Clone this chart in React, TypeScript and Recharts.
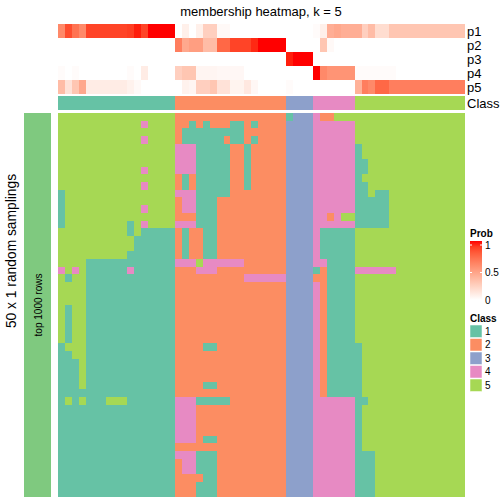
import React from 'react';
import { ScatterChart, Scatter, XAxis, YAxis } from 'recharts';

// Set2 colours for the 5 classes
const classColors = ['#66C2A5', '#FC8D62', '#8DA0CB', '#E78AC3', '#A6D854'];
const classNames = ['1', '2', '3', '4', '5'];
const probNames = ['p1', 'p2', 'p3', 'p4', 'p5'];

// class of every sample (column)
const columnClass = '11111111111111111 2222222222222222 3333 444444 5555555555555555';

// membership probabilities per column
const p1 = [0.6, 0.85, 0.7, 0.6, 0.88, 0.88, 0.88, 0.88, 0.88, 0.88, 0.9, 0.97, 0.88, 1, 1, 1, 1,
  0, 0.08, 0, 0.08, 0.25, 0.25, 0.03, 0.03, 0, 0, 0, 0, 0, 0, 0, 0,
  0, 0, 0, 0,
  0.02, 0.08, 0.42, 0.45, 0.42, 0.42,
  0.42, 0.25, 0.35, 0.18, 0.18, 0.3, 0.3, 0.3, 0.3, 0.3, 0.3, 0.3, 0.3, 0.3, 0.3, 0.3];
const p2 = [0, 0, 0, 0, 0, 0, 0, 0, 0, 0, 0, 0, 0, 0, 0, 0, 0,
  0.65, 0.45, 0.5, 0.5, 0.35, 0.35, 0.75, 0.75, 0.88, 0.88, 0.88, 0.95, 1, 1, 1, 1,
  0, 0, 0, 0,
  0, 0.3, 0.03, 0, 0, 0,
  0, 0, 0, 0, 0, 0, 0, 0, 0, 0, 0, 0, 0, 0, 0, 0];
const p3 = [0, 0, 0, 0, 0, 0, 0, 0, 0, 0, 0, 0, 0, 0, 0, 0, 0,
  0, 0, 0, 0, 0, 0, 0, 0, 0, 0, 0, 0, 0, 0, 0, 0,
  0.97, 1, 1, 1,
  0, 0, 0, 0, 0, 0,
  0, 0, 0, 0, 0, 0, 0, 0, 0, 0, 0, 0, 0, 0, 0, 0];
const p4 = [0.02, 0, 0.02, 0, 0, 0, 0, 0, 0, 0, 0.02, 0, 0.1, 0, 0, 0, 0,
  0.25, 0.3, 0.3, 0.05, 0.05, 0.05, 0.04, 0.04, 0.04, 0.04, 0, 0, 0, 0, 0, 0,
  0, 0, 0, 0,
  1, 0.6, 0.55, 0.55, 0.55, 0.55,
  0.02, 0.02, 0.02, 0.02, 0.02, 0.02, 0, 0, 0, 0, 0, 0, 0, 0, 0, 0];
const p5 = [0.35, 0.15, 0.3, 0.45, 0.1, 0.1, 0.1, 0.1, 0.1, 0.1, 0.07, 0.03, 0, 0, 0, 0, 0,
  0, 0.07, 0.05, 0.25, 0.25, 0.3, 0.15, 0.15, 0.06, 0.06, 0.12, 0.04, 0, 0, 0, 0,
  0.02, 0, 0, 0,
  0, 0, 0, 0, 0, 0,
  0.4, 0.65, 0.6, 0.75, 0.75, 0.65, 0.65, 0.65, 0.65, 0.65, 0.65, 0.65, 0.65, 0.65, 0.65, 0.65];

// class assigned in each of the 50 random samplings (rows), one digit per column
const samplings = [
  '55555555555555555 2222222222222222 1333 422555 5555555555555555',
  '55555555555545555 2212122211212222 3333 444444 5555555555555555',
  '55555555555555555 2111111111222222 3333 444444 5555555555555555',
  '55555555555545555 2111111211212222 3333 444444 5555555555555555',
  '55555555555555555 4441111122122222 3333 444444 1555555555555555',
  '55555555555555555 4441111122122222 3333 444444 1555555555555555',
  '55555555555555555 4441111122122222 3333 444444 1155555555555555',
  '55555555555545555 4441111122122222 3333 444444 1155555555555555',
  '55555555555555555 2121111122122222 3333 444444 1555555555555555',
  '55555555555545555 2121111122122222 3333 444444 1155555555555555',
  '15555555555555555 4441111122222222 3333 444444 1151155555555555',
  '15555555555555555 2441112222222222 3333 444444 1111155555555555',
  '15555555555545555 2441112222222222 3333 444444 1111155555555555',
  '15555555555555555 2221112222222222 3333 442455 1111155555555555',
  '15555555551545555 4441112222222222 3333 444444 1111155555555555',
  '55555555551511111 2122112222222222 3333 411111 5555555555555555',
  '55555555555111111 2122112222222222 3333 411111 5555555555555555',
  '55555555555111111 2122112222222222 3333 411111 5555555555555555',
  '55555555551111111 2122112222222222 3333 411111 5555555555555555',
  '55551111111111111 4445444444222222 3333 441111 5555555555555555',
  '45451111114111111 2224442222222222 3333 121111 4444445555555555',
  '51551111111111111 2222222222444444 3333 221111 5555555555555555',
  '55551111111111111 2222222222222222 3333 421111 5555555555555555',
  '55551111111111111 2222222222222222 3333 421111 5555555555555555',
  '55551111111111111 2222222222222222 3333 421111 5555555555555555',
  '51551111111111111 2222222222222222 3333 421111 5555555555555555',
  '51551111111111111 2222222222222222 3333 421111 5555555555555555',
  '51551111111111111 2222222222222222 3333 421111 5555555555555555',
  '51551111111111111 2222222222222222 3333 421111 5555555555555555',
  '51551111111111111 2222222222222222 3333 421111 5555555555555555',
  '15551111111111111 2222112222222222 3333 421111 1555555555555555',
  '11551111111111111 2222222222222222 3333 421111 1555555555555555',
  '11151111111111111 2222222222222222 3333 421111 1555555555555555',
  '11151111111111111 2222222222222222 3333 421111 1555555555555555',
  '11151111111111111 2222222222222222 3333 421111 1555555555555555',
  '11151111111111111 2222112222222222 3333 421111 1555555555555555',
  '11111111111111111 2222222222222222 3333 421111 1555555555555555',
  '15151115551111111 4441111122222222 3333 444444 1155555555555555',
  '11111111111111111 4442222222222222 3333 444444 1555555555555555',
  '11111111111111111 4442222222222222 3333 444444 1555555555555555',
  '11111111111111111 4442222222222222 3333 444444 1555555555555555',
  '11111111111111111 4442222222222222 3333 444444 1555555555555555',
  '11111111111111111 4442112222222222 3333 444444 1555555555555555',
  '11111111111111111 2222222222222222 3333 444444 1555555555555555',
  '11111111111111111 4441112222222222 3333 444444 1115555555555555',
  '11111111111111111 2441112222222222 3333 444444 1115555555555555',
  '11111111111111111 2441112222222222 3333 444444 1115555555555555',
  '11111111111111111 2222112222222222 3333 444444 1115555555555555',
  '11111111111111111 2221112222222222 3333 444444 1115555555555555',
  '11111111111111111 2221112222222222 3333 444444 1115555555555555',
];

// white -> red ramp interpolated in Lab, like colorRamp2
const toLin = (v: number) => { v /= 255; return v <= 0.04045 ? v / 12.92 : Math.pow((v + 0.055) / 1.055, 2.4); };
const fromLin = (v: number) => {
  const s = v <= 0.0031308 ? 12.92 * v : 1.055 * Math.pow(v, 1 / 2.4) - 0.055;
  return Math.round(Math.max(0, Math.min(1, s)) * 255);
};
const labF = (t: number) => (t > 0.008856 ? Math.cbrt(t) : 7.787 * t + 16 / 116);
const labInv = (t: number) => (t * t * t > 0.008856 ? t * t * t : (t - 16 / 116) / 7.787);
function toLab(r: number, g: number, b: number) {
  const R = toLin(r), G = toLin(g), B = toLin(b);
  const X = (0.4124 * R + 0.3576 * G + 0.1805 * B) / 0.95047;
  const Y = 0.2126 * R + 0.7152 * G + 0.0722 * B;
  const Z = (0.0193 * R + 0.1192 * G + 0.9505 * B) / 1.08883;
  return [116 * labF(Y) - 16, 500 * (labF(X) - labF(Y)), 200 * (labF(Y) - labF(Z))];
}
function fromLab(L: number, a: number, b: number) {
  const fy = (L + 16) / 116;
  const X = labInv(fy + a / 500) * 0.95047;
  const Y = labInv(fy);
  const Z = labInv(fy - b / 200) * 1.08883;
  const r = 3.2406 * X - 1.5372 * Y - 0.4986 * Z;
  const g = -0.9689 * X + 1.8758 * Y + 0.0415 * Z;
  const bb = 0.0557 * X - 0.204 * Y + 1.057 * Z;
  return `rgb(${fromLin(r)},${fromLin(g)},${fromLin(bb)})`;
}
const labWhite = toLab(255, 255, 255);
const labRed = toLab(255, 0, 0);
const probColor = (t: number) =>
  fromLab(
    labWhite[0] + (labRed[0] - labWhite[0]) * t,
    labWhite[1] + (labRed[1] - labWhite[1]) * t,
    labWhite[2] + (labRed[2] - labWhite[2]) * t,
  );

const classOfCol = columnClass.replace(/ /g, '').split('').map(Number);
const gridRows = samplings.map((s) => s.replace(/ /g, '').split('').map(Number));
const probs = [p1, p2, p3, p4, p5];
const nCol = classOfCol.length;

const mainData = gridRows.flatMap((row, r) => row.map((cls, c) => ({ x: c + 0.5, y: r + 0.5, fill: classColors[cls - 1] })));
const probData = probs.flatMap((row, k) => row.map((v, c) => ({ x: c + 0.5, y: k + 0.5, fill: probColor(v) })));
const classData = classOfCol.map((cls, c) => ({ x: c + 0.5, y: 0.5, fill: classColors[cls - 1] }));

const PLOT_LEFT = 58;
const PLOT_W = 407;

function Tiles({ data, rows, top, height }: { data: any[]; rows: number; top: number; height: number }) {
  const w = PLOT_W / nCol;
  const h = height / rows;
  const shape = (props: any) => {
    const { cx, cy, payload } = props;
    if (cx == null || cy == null) return null;
    return (
      <rect x={cx - w / 2} y={cy - h / 2} width={w + 0.6} height={h + 0.6}
        fill={payload.fill} shapeRendering="crispEdges" />
    );
  };
  return (
    <div style={{ position: 'absolute', left: PLOT_LEFT, top }}>
      <ScatterChart width={PLOT_W} height={height} margin={{ top: 0, right: 0, bottom: 0, left: 0 }}>
        <XAxis type="number" dataKey="x" domain={[0, nCol]} allowDataOverflow hide />
        <YAxis type="number" dataKey="y" domain={[0, rows]} allowDataOverflow reversed hide />
        <Scatter data={data} shape={shape} isAnimationActive={false} />
      </ScatterChart>
    </div>
  );
}

const gradStops = [0, 0.1, 0.2, 0.3, 0.4, 0.5, 0.6, 0.7, 0.8, 0.9, 1];

export default function App() {
  const font = '"Liberation Sans", Arial, Helvetica, sans-serif';
  return (
    <div style={{ position: 'absolute', left: 0, top: 0, width: 504, height: 504, background: '#fff', fontFamily: font }}>
      <Tiles data={probData} rows={5} top={24} height={70} />
      <Tiles data={classData} rows={1} top={96} height={14} />
      <Tiles data={mainData} rows={gridRows.length} top={113} height={384} />
      <svg width={504} height={504} style={{ position: 'absolute', left: 0, top: 0, pointerEvents: 'none' }} fontFamily={font}>
        <defs>
          <linearGradient id="probGrad" x1="0" y1="1" x2="0" y2="0">
            {gradStops.map((t) => (
              <stop key={t} offset={t} stopColor={probColor(t)} />
            ))}
          </linearGradient>
        </defs>
        <text x={261} y={16} textAnchor="middle" fontSize={13}>membership heatmap, k = 5</text>
        {probNames.map((n, i) => (
          <text key={n} x={467} y={31 + i * 14} dominantBaseline="central" fontSize={13}>{n}</text>
        ))}
        <text x={467} y={103} dominantBaseline="central" fontSize={13}>Class</text>

        <rect x={24} y={113} width={27} height={384} fill="#7FC97F" />
        <text transform="translate(41.5,305) rotate(-90)" textAnchor="middle" fontSize={10}>top 1000 rows</text>
        <text transform="translate(16,251) rotate(-90)" textAnchor="middle" fontSize={13.8}>50 x 1 random samplings</text>

        <text x={470} y={237} fontSize={10} fontWeight="bold">Prob</text>
        <rect x={470} y={241} width={12} height={59} fill="url(#probGrad)" />
        <line x1={470} x2={472} y1={245} y2={245} stroke="#fff" />
        <line x1={480} x2={482} y1={245} y2={245} stroke="#fff" />
        <line x1={470} x2={472} y1={272.5} y2={272.5} stroke="#fff" />
        <line x1={480} x2={482} y1={272.5} y2={272.5} stroke="#fff" />
        <text x={485} y={245.5} dominantBaseline="central" fontSize={10}>1</text>
        <text x={485} y={272.5} dominantBaseline="central" fontSize={10}>0.5</text>
        <text x={485} y={300} dominantBaseline="central" fontSize={10}>0</text>

        <text x={470} y={322} fontSize={10} fontWeight="bold">Class</text>
        {classNames.map((n, i) => (
          <g key={n}>
            <rect x={470} y={325 + i * 13.5} width={12} height={12.5} fill={classColors[i]} stroke="#fff" strokeWidth={0.5} />
            <text x={485} y={331 + i * 13.5} dominantBaseline="central" fontSize={10}>{n}</text>
          </g>
        ))}
      </svg>
    </div>
  );
}
